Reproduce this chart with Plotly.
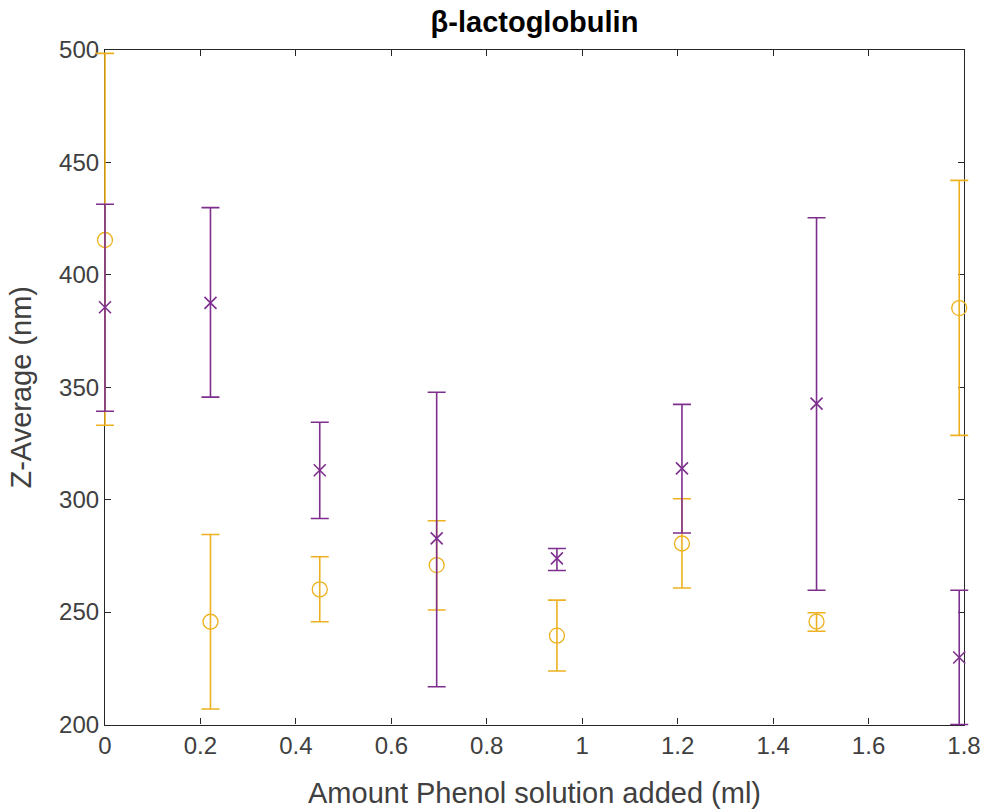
import plotly.graph_objects as go

# Data
x_vals = [0.0, 0.221, 0.45, 0.695, 0.947, 1.209, 1.491, 1.79]

orange_y = [415.5, 245.7, 260.1, 270.9, 239.5, 280.5, 245.8, 385.2]
orange_up = [498.5, 284.5, 274.6, 290.6, 255.3, 300.4, 249.7, 442.0]
orange_lo = [333.1, 206.9, 245.7, 250.9, 223.8, 260.7, 241.5, 328.6]

purple_y = [385.6, 387.5, 313.1, 282.8, 273.9, 313.9, 342.7, 229.8]
purple_up = [431.4, 429.9, 334.4, 347.8, 278.3, 342.4, 425.4, 259.7]
purple_lo = [339.3, 345.6, 291.6, 216.8, 268.5, 285.2, 259.7, 200.0]

x_ticks = [0, 0.2, 0.4, 0.6, 0.8, 1.0, 1.2, 1.4, 1.6, 1.8]
x_tick_labels = ["0", "0.2", "0.4", "0.6", "0.8", "1", "1.2", "1.4", "1.6", "1.8"]
y_ticks = [200, 250, 300, 350, 400, 450, 500]

X_RANGE = [0, 1.8]
Y_RANGE = [200, 500]

ORANGE = "#EDB120"
PURPLE = "#7E2F8E"
AX = "#262626"
TXT = "#404040"
FONT = "Liberation Sans, Arial, sans-serif"

W, H = 987, 810
# frame (visible axes box) in pixels
L, R, T, B = 105, 964, 50, 724.5

def errs(y, up, lo):
    return [u - v for u, v in zip(up, y)], [v - l for v, l in zip(y, lo)]

o_plus, o_minus = errs(orange_y, orange_up, orange_lo)
p_plus, p_minus = errs(purple_y, purple_up, purple_lo)

fig = go.Figure()
# invisible trace on the frame axes so the frame subplot is drawn
fig.add_trace(go.Scatter(
    x=x_vals, y=orange_y, mode="markers", xaxis="x", yaxis="y",
    marker=dict(opacity=0, size=1), hoverinfo="skip", showlegend=False,
))
# data traces live on an invisible full-page axis pair so error bars are not clipped
fig.add_trace(go.Scatter(
    x=x_vals, y=orange_y, mode="markers", xaxis="x2", yaxis="y2",
    marker=dict(symbol="circle-open", size=15, color=ORANGE, line=dict(width=1.3, color=ORANGE)),
    error_y=dict(type="data", symmetric=False, array=o_plus, arrayminus=o_minus,
                 color=ORANGE, thickness=1.6, width=9),
    cliponaxis=False, showlegend=False,
))
fig.add_trace(go.Scatter(
    x=x_vals, y=purple_y, mode="markers", xaxis="x2", yaxis="y2",
    marker=dict(symbol="x-thin-open", size=12, color=PURPLE, line=dict(width=1.6, color=PURPLE)),
    error_y=dict(type="data", symmetric=False, array=p_plus, arrayminus=p_minus,
                 color=PURPLE, thickness=1.6, width=9),
    cliponaxis=False, showlegend=False,
))

# invisible data axes mapped so that X_RANGE/Y_RANGE land exactly on the frame
xppu = (R - L) / (X_RANGE[1] - X_RANGE[0])
yppu = (B - T) / (Y_RANGE[1] - Y_RANGE[0])
x2_range = [X_RANGE[0] - L / xppu, X_RANGE[1] + (W - R) / xppu]
y2_range = [Y_RANGE[0] - (H - B) / yppu, Y_RANGE[1] + T / yppu]

axis_common = dict(
    showline=True, linecolor=AX, linewidth=1.2, mirror="ticks",
    ticks="inside", ticklen=6, tickcolor=AX, tickwidth=1,
    showgrid=False, zeroline=False, automargin=False,
    tickfont=dict(family=FONT, size=24, color=TXT),
)

fig.update_layout(
    width=W, height=H,
    margin=dict(l=0, r=0, t=0, b=0, autoexpand=False),
    plot_bgcolor="rgba(0,0,0,0)", paper_bgcolor="white",
    xaxis=dict(domain=[L / W, R / W], range=X_RANGE, tickvals=x_ticks, ticktext=x_tick_labels,
               anchor="y",
               title=dict(text="Amount Phenol solution added (ml)", standoff=24,
                          font=dict(family=FONT, size=29, color=TXT)),
               **axis_common),
    yaxis=dict(domain=[1 - B / H, 1 - T / H], range=Y_RANGE, tickvals=y_ticks, anchor="x",
               title=dict(text="Z-Average (nm)", standoff=18,
                          font=dict(family=FONT, size=29, color=TXT)),
               **axis_common),
    xaxis2=dict(domain=[0, 1], range=x2_range, visible=False, anchor="y2", fixedrange=True,
                automargin=False),
    yaxis2=dict(domain=[0, 1], range=y2_range, visible=False, anchor="x2", fixedrange=True,
                automargin=False),
    title=dict(text="<b>β-lactoglobulin</b>", x=(L + R) / 2 / W, xanchor="center",
               y=1 - 22 / H, yanchor="middle",
               font=dict(family=FONT, size=29, color="black")),
)

fig.write_html("out.html")
